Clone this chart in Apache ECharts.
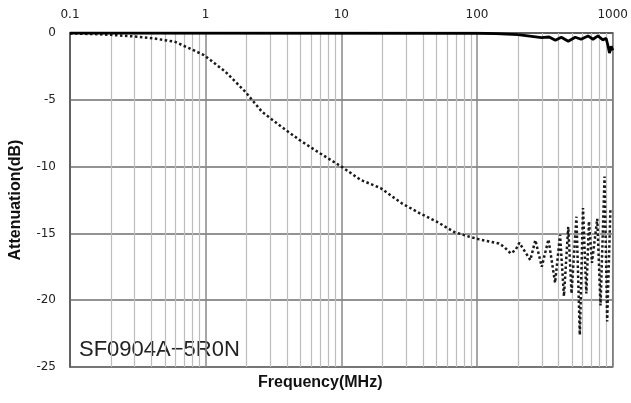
<!DOCTYPE html>
<html>
<head>
<meta charset="utf-8">
<script src="https://cdn.jsdelivr.net/npm/echarts@6/dist/echarts.min.js"></script>
<style>
  html, body { margin: 0; padding: 0; background: #fff; }
  #chart { width: 631px; height: 403px; }
</style>
</head>
<body>
<div id="chart"></div>
<script>
// dotted curve: attenuation vs frequency
const attFreq = [0.1, 0.15, 0.2, 0.29, 0.41, 0.59, 0.76, 0.97, 1.4, 1.96, 2.6, 3.6, 4.9, 6.7, 10, 13.9, 19.4, 27.9, 37.9, 50, 68, 88, 104, 123, 145, 158, 177, 192, 205, 247, 269, 300, 336, 376, 409, 437, 470, 497, 540, 572, 604, 639, 668, 703, 769, 813, 870, 910, 962]
const attValue = [-0.03, -0.08, -0.14, -0.25, -0.4, -0.65, -1.15, -1.65, -2.9, -4.4, -5.9, -7.0, -8.0, -8.9, -10.0, -11.0, -11.6, -12.75, -13.5, -14.1, -14.9, -15.25, -15.45, -15.6, -15.75, -16.0, -16.5, -16.25, -15.7, -17.0, -15.5, -17.5, -15.45, -18.7, -15.1, -19.7, -14.5, -19.5, -13.75, -22.6, -13.1, -19.5, -14.1, -17.2, -13.9, -20.4, -10.75, -21.6, -13.1]

// solid curve near 0 dB
const insFreq = [0.1, 100, 138, 200, 299, 340, 378, 418, 470, 529, 585, 657, 715, 778, 846, 894, 920, 946, 973, 1000]
const insValue = [0, -0.02, -0.05, -0.12, -0.35, -0.3, -0.55, -0.32, -0.62, -0.32, -0.47, -0.22, -0.47, -0.22, -0.52, -0.4, -0.9, -1.5, -1.0, -1.3]

// minor grid lines (2..9 of each decade)
const minorTicks = [0.2, 0.3, 0.4, 0.5, 0.6, 0.7, 0.8, 0.9, 2, 3, 4, 5, 6, 7, 8, 9, 20, 30, 40, 50, 60, 70, 80, 90, 200, 300, 400, 500, 600, 700, 800, 900]

const myChart = echarts.init(document.getElementById('chart'))

const zip = (xs, ys) => xs.map((x, i) => [x, ys[i]])

let option = {
  animation: false,
  grid: {
    left: 66,
    right: 16,
    top: 33,
    bottom: 36,
    show: true,
    borderColor: '#666',
    borderWidth: 1.5
  },
  xAxis: {
    type: 'log',
    logBase: 10,
    min: 0.1,
    max: 1000,
    position: 'top',
    axisLine: { show: true, lineStyle: { color: '#555', width: 1.5 } },
    axisTick: { show: false },
    axisLabel: {
      color: '#222',
      fontSize: 12,
      fontFamily: 'DejaVu Sans',
      margin: 12,
      formatter: v => String(+v.toPrecision(3))
    },
    splitLine: { show: true, lineStyle: { color: '#888', width: 1.5 } }
  },
  yAxis: {
    type: 'value',
    min: -25,
    max: 0,
    interval: 5,
    name: 'Attenuation(dB)',
    nameLocation: 'middle',
    nameGap: 46,
    nameTextStyle: {
      fontFamily: 'Liberation Sans',
      fontWeight: 'bold',
      fontSize: 16,
      color: '#111'
    },
    axisLine: { show: true, lineStyle: { color: '#555', width: 1.5 } },
    axisTick: { show: false },
    axisLabel: {
      color: '#222',
      fontSize: 12,
      fontFamily: 'DejaVu Sans',
      margin: 14
    },
    splitLine: { show: true, lineStyle: { color: '#6f6f6f', width: 1.5 } }
  },
  graphic: [
    {
      type: 'text',
      left: 258,
      top: 375,
      style: {
        text: 'Frequency(MHz)',
        font: 'bold 16px "Liberation Sans"',
        fill: '#111'
      }
    },
    {
      type: 'text',
      left: 79,
      top: 339,
      style: {
        text: 'SF0904A−5R0N',
        font: '22px "Liberation Sans"',
        fill: '#222'
      }
    }
  ],
  series: [
    {
      name: 'grid',
      type: 'line',
      data: [],
      silent: true,
      markLine: {
        z: 1,
        silent: true,
        symbol: 'none',
        label: { show: false },
        lineStyle: { color: '#bdbdbd', width: 1.2, type: 'solid' },
        emphasis: { disabled: true },
        data: minorTicks.map(v => ({ xAxis: v }))
      }
    },
    {
      name: 'attenuation',
      type: 'line',
      showSymbol: false,
      lineStyle: { color: '#1a1a1a', width: 2.5, type: [2.5, 2.5] },
      data: zip(attFreq, attValue)
    },
    {
      name: 'insertion',
      type: 'line',
      showSymbol: false,
      lineStyle: { color: '#000', width: 2.8 },
      data: zip(insFreq, insValue)
    }
  ]
}
myChart.setOption(option)
</script>
</body>
</html>
